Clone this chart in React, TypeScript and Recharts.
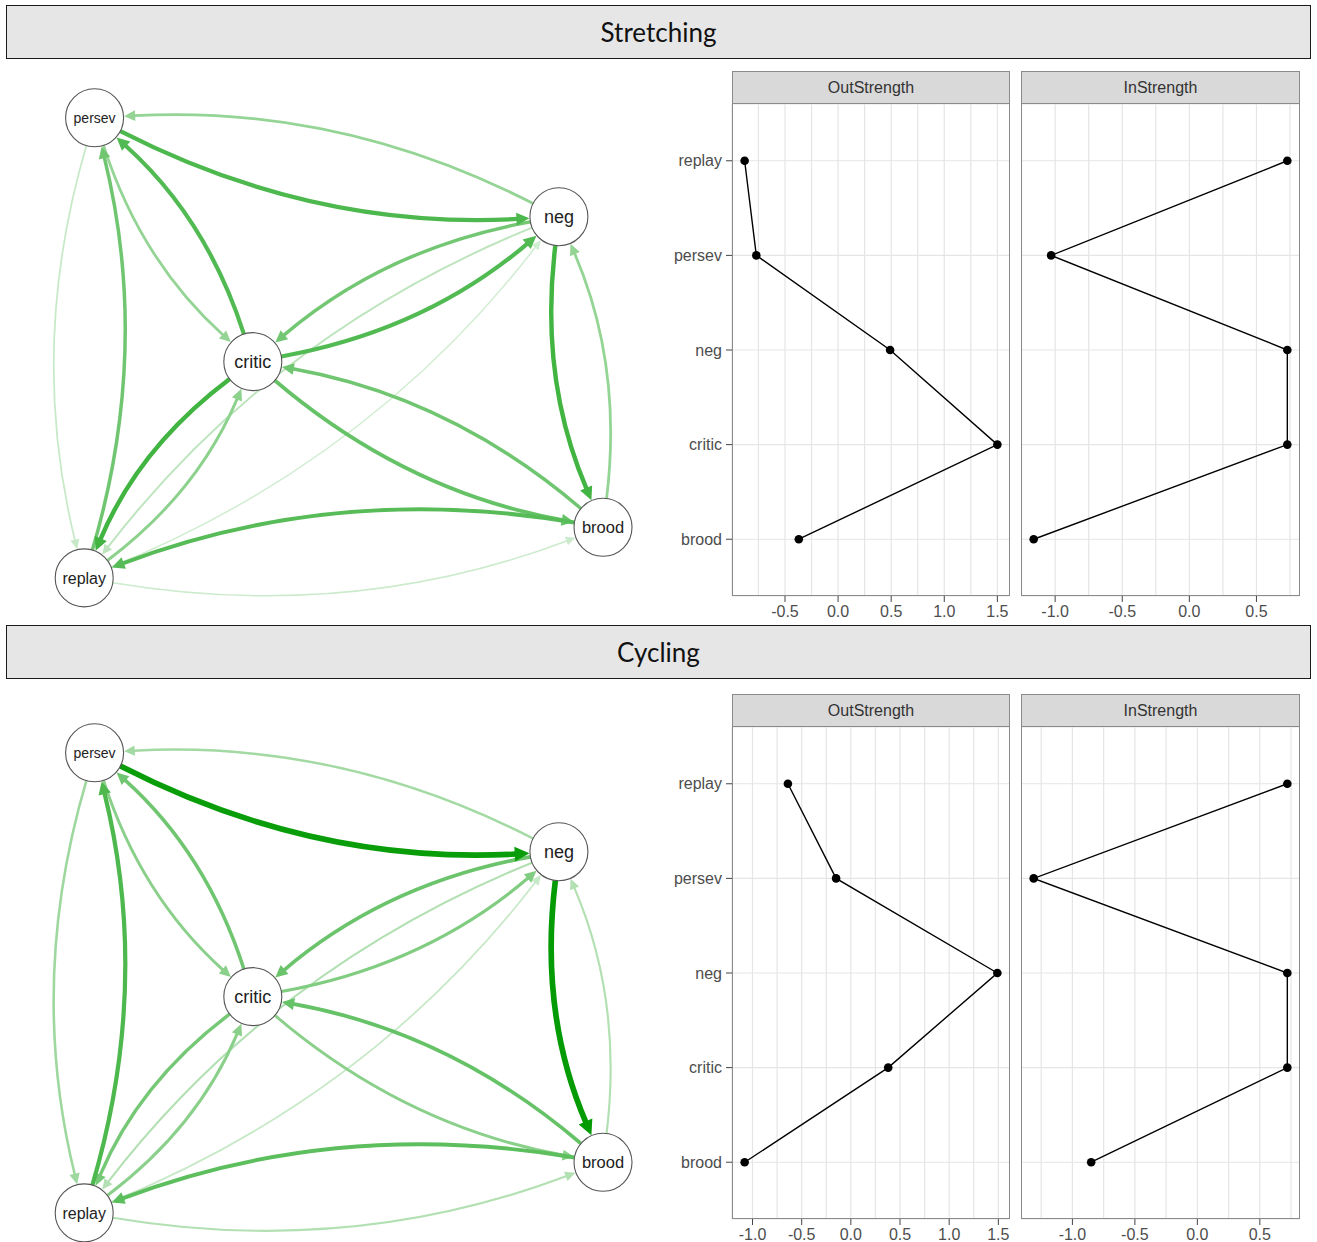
import { ScatterChart, Scatter, XAxis, YAxis, CartesianGrid } from 'recharts';

// ---- network layout (qgraph style coordinates) ----
const NODE_NAMES = ['persev', 'neg', 'critic', 'brood', 'replay'];
const NODE_X = [-0.96, 0.83, -0.35, 1.0, -1.0];
const NODE_Y = [1.0, 0.57, -0.06, -0.78, -1.0];
const NODE_FONT = [14, 18, 18, 16.5, 16];

// [from, to, weight]   0 persev, 1 neg, 2 critic, 3 brood, 4 replay
const STRETCH_EDGES = [
  [0, 1, 0.7], [1, 0, 0.42],
  [2, 0, 0.68], [0, 2, 0.42],
  [4, 0, 0.56], [0, 4, 0.22],
  [1, 2, 0.55], [2, 1, 0.68],
  [1, 4, 0.26], [4, 1, 0.18],
  [1, 3, 0.74], [3, 1, 0.42],
  [2, 3, 0.6], [3, 2, 0.56],
  [2, 4, 0.74], [4, 2, 0.45],
  [3, 4, 0.66], [4, 3, 0.2],
];

const CYCLE_EDGES = [
  [0, 1, 0.96], [1, 0, 0.36],
  [2, 0, 0.56], [0, 2, 0.46],
  [4, 0, 0.7], [0, 4, 0.38],
  [1, 2, 0.58], [2, 1, 0.5],
  [1, 4, 0.3], [4, 1, 0.22],
  [1, 3, 0.98], [3, 1, 0.3],
  [2, 3, 0.46], [3, 2, 0.6],
  [2, 4, 0.54], [4, 2, 0.46],
  [3, 4, 0.64], [4, 3, 0.3],
];

// ---- centrality (z-scores) ----
const CENT_LABELS = ['replay', 'persev', 'neg', 'critic', 'brood'];
const STRETCH_OUT = [-0.88, -0.77, 0.49, 1.5, -0.37];
const STRETCH_IN = [0.73, -1.03, 0.73, 0.73, -1.16];
const CYCLE_OUT = [-0.64, -0.15, 1.49, 0.38, -1.08];
const CYCLE_IN = [0.72, -1.31, 0.72, 0.72, -0.85];

const STRETCH_OUT_TICKS = [-0.5, 0, 0.5, 1, 1.5];
const STRETCH_IN_TICKS = [-1, -0.5, 0, 0.5];
const CYCLE_OUT_TICKS = [-1, -0.5, 0, 0.5, 1, 1.5];
const CYCLE_IN_TICKS = [-1, -0.5, 0, 0.5];

const NODE_R = 29;
const CURVE = 0.135;
const AXIS_FONT = '"Liberation Sans", Arial, sans-serif';

function green(w: number) {
  const a = Math.min(1, w);
  const r = Math.round(255 * (1 - a));
  const g = Math.round(153 * a + 255 * (1 - a));
  return `rgb(${r},${g},${r})`;
}

function unit(x: number, y: number) {
  const l = Math.hypot(x, y) || 1;
  return [x / l, y / l];
}

function edgeRenderer(w: number) {
  return (props: any) => {
    const pts = props.points;
    if (!pts || pts.length < 2) return <g />;
    const a = pts[0];
    const b = pts[1];
    const dx = b.x - a.x;
    const dy = b.y - a.y;
    const len = Math.hypot(dx, dy);
    const [ux, uy] = unit(dx, dy);
    // bend to the right of the direction of travel
    const cx = (a.x + b.x) / 2 - uy * CURVE * len;
    const cy = (a.y + b.y) / 2 + ux * CURVE * len;
    const [sax, say] = unit(cx - a.x, cy - a.y);
    const [sbx, sby] = unit(cx - b.x, cy - b.y);
    const sx = a.x + sax * NODE_R;
    const sy = a.y + say * NODE_R;
    const tx = b.x + sbx * (NODE_R + 0.5);
    const ty = b.y + sby * (NODE_R + 0.5);
    const sw = 0.6 + 5.2 * w;
    const al = 7.5 + 1.3 * sw;
    const ah = 3.4 + 0.7 * sw;
    const bx = tx + sbx * al;
    const by = ty + sby * al;
    const px = -sby;
    const py = sbx;
    const col = green(w);
    return (
      <g>
        <path
          d={`M${sx},${sy} Q${cx},${cy} ${bx - sbx},${by - sby}`}
          fill="none"
          stroke={col}
          strokeWidth={sw}
        />
        <polygon
          points={`${tx},${ty} ${bx + px * ah},${by + py * ah} ${bx - px * ah},${by - py * ah}`}
          fill={col}
        />
      </g>
    );
  };
}

function NodeShape(props: any) {
  const { cx, cy, payload } = props;
  return (
    <g>
      <circle cx={cx} cy={cy} r={NODE_R} fill="#fff" stroke="#555" strokeWidth={1.1} />
      <text
        x={cx}
        y={cy}
        dy="0.35em"
        textAnchor="middle"
        fontFamily={AXIS_FONT}
        fontSize={payload.fs}
        fill="#222"
      >
        {payload.name}
      </text>
    </g>
  );
}

function Network({ edges, top }: { edges: number[][]; top: number }) {
  const nodes = NODE_NAMES.map((name, i) => ({ x: NODE_X[i], y: NODE_Y[i], name, fs: NODE_FONT[i] }));
  const sorted = [...edges].sort((p, q) => p[2] - q[2]);
  return (
    <div style={{ position: 'absolute', left: 0, top }}>
      <ScatterChart width={660} height={560} margin={{ top: 0, right: 0, bottom: 0, left: 0 }}>
        <XAxis type="number" dataKey="x" domain={[-1.3246, 1.2197]} allowDataOverflow hide />
        <YAxis type="number" dataKey="y" domain={[-1.183, 1.2513]} allowDataOverflow hide />
        {sorted.map(([f, t, w], i) => (
          <Scatter
            key={i}
            data={[
              { x: NODE_X[f], y: NODE_Y[f] },
              { x: NODE_X[t], y: NODE_Y[t] },
            ]}
            line={edgeRenderer(w)}
            shape={() => <g />}
            isAnimationActive={false}
          />
        ))}
        <Scatter data={nodes} shape={NodeShape} isAnimationActive={false} />
      </ScatterChart>
    </div>
  );
}

const PLOT_H = 492;
const STRIP_H = 33;

function XTick(props: any) {
  const { x, y, payload } = props;
  const v = payload.value;
  if (Math.abs(v * 2 - Math.round(v * 2)) > 1e-6) return <g />;
  return (
    <g>
      <line x1={x} x2={x} y1={y - 10} y2={y - 4} stroke="#444" strokeWidth={1} />
      <text x={x} y={y} dy="0.71em" textAnchor="middle" fontFamily={AXIS_FONT} fontSize={16} fill="#4d4d4d">
        {v.toFixed(1)}
      </text>
    </g>
  );
}

function Dot(props: any) {
  return <circle cx={props.cx} cy={props.cy} r={4.3} fill="#000" />;
}

function Facet({
  title, values, ticks, left, width, top, showY,
}: {
  title: string; values: number[]; ticks: number[]; left: number; width: number; top: number; showY: boolean;
}) {
  const lo = Math.min(...values);
  const hi = Math.max(...values);
  const pad = (hi - lo) * 0.05;
  const domain = [lo - pad, hi + pad];
  const grid: number[] = [];
  for (let k = Math.ceil(domain[0] * 4); k <= Math.floor(domain[1] * 4); k++) grid.push(k / 4);
  const data = CENT_LABELS.map((name, i) => ({ name, idx: i, v: values[i] }));
  const yw = showY ? 74 : 0;
  return (
    <>
      <div
        style={{
          position: 'absolute', left: left + yw, top, width: width - yw, height: STRIP_H,
          boxSizing: 'border-box', background: '#d9d9d9', border: '1px solid #8a8a8a',
          display: 'flex', alignItems: 'center', justifyContent: 'center',
          fontFamily: AXIS_FONT, fontSize: 16, color: '#333', paddingTop: 1,
        }}
      >
        {title}
      </div>
      <div style={{ position: 'absolute', left, top: top + STRIP_H }}>
        <ScatterChart width={width} height={PLOT_H + 30} margin={{ top: 0, right: 0, bottom: 0, left: 0 }}>
          <CartesianGrid stroke="#e5e5e5" strokeWidth={1.2} />
          <XAxis
            type="number"
            dataKey="v"
            domain={domain}
            allowDataOverflow
            ticks={grid}
            interval={0}
            tick={<XTick />}
            tickLine={false}
            axisLine={false}
            tickSize={6}
            tickMargin={4}
            height={30}
          />
          <YAxis
            type="number"
            dataKey="idx"
            domain={[-0.6, 4.6]}
            allowDataOverflow
            reversed
            ticks={[0, 1, 2, 3, 4]}
            interval={0}
            tickFormatter={(i: number) => CENT_LABELS[i]}
            hide={!showY}
            width={yw || 60}
            axisLine={false}
            tickSize={6}
            tickMargin={4}
            tickLine={{ stroke: '#444' }}
            tick={{ fontFamily: AXIS_FONT, fontSize: 16, fill: '#4d4d4d' }}
          />
          <Scatter
            data={data}
            line={{ stroke: '#000', strokeWidth: 1.4 }}
            shape={Dot}
            isAnimationActive={false}
          />
        </ScatterChart>
      </div>
      <div
        style={{
          position: 'absolute', left: left + yw, top: top + STRIP_H - 1, width: width - yw, height: PLOT_H + 1,
          boxSizing: 'border-box', border: '1px solid #8a8a8a', pointerEvents: 'none',
        }}
      />
    </>
  );
}

function Header({ title, top }: { title: string; top: number }) {
  return (
    <div
      style={{
        position: 'absolute', left: 6, top, width: 1305, height: 54, boxSizing: 'border-box',
        border: '1.5px solid #1a1a1a', background: '#e6e6e6',
        display: 'flex', alignItems: 'center', justifyContent: 'center',
        fontFamily: 'Lato, "Open Sans", sans-serif', fontSize: 26, color: '#111',
      }}
    >
      {title}
    </div>
  );
}

export default function App() {
  return (
    <div style={{ position: 'relative', width: 1317, height: 1242, background: '#fff', overflow: 'hidden' }}>
      <style>{'body{margin:0}'}</style>

      {/* ===== STRETCHING ===== */}
      <Header title="Stretching" top={5} />
      <Network edges={STRETCH_EDGES} top={60} />
      <Facet title="OutStrength" values={STRETCH_OUT} ticks={STRETCH_OUT_TICKS} left={658} width={352} top={71} showY />
      <Facet title="InStrength" values={STRETCH_IN} ticks={STRETCH_IN_TICKS} left={1021} width={279} top={71} showY={false} />

      {/* ===== CYCLING ===== */}
      <Header title="Cycling" top={625} />
      <Network edges={CYCLE_EDGES} top={695} />
      <Facet title="OutStrength" values={CYCLE_OUT} ticks={CYCLE_OUT_TICKS} left={658} width={352} top={694} showY />
      <Facet title="InStrength" values={CYCLE_IN} ticks={CYCLE_IN_TICKS} left={1021} width={279} top={694} showY={false} />
    </div>
  );
}
